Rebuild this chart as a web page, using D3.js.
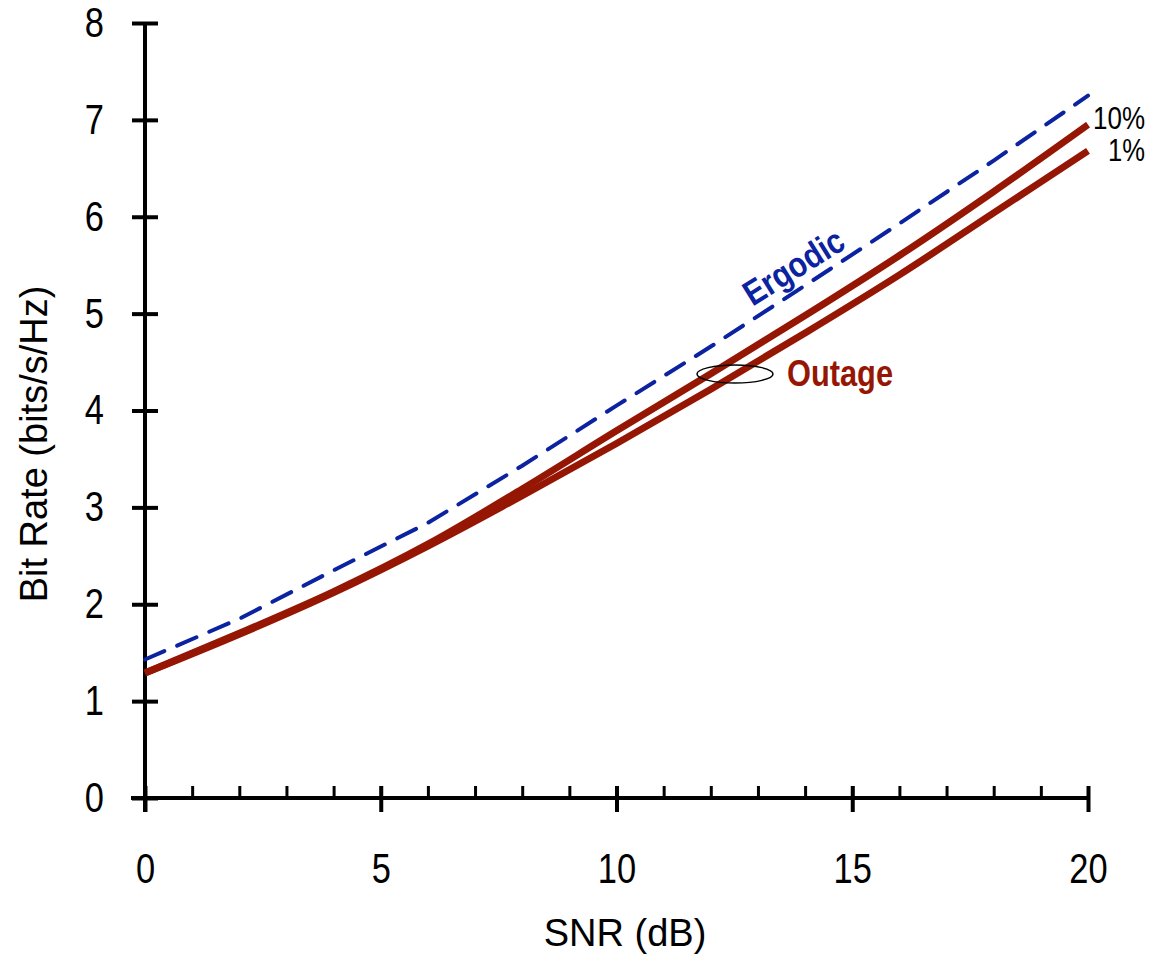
<!DOCTYPE html>
<html>
<head>
  <meta charset="utf-8">
  <script src="https://cdn.jsdelivr.net/npm/d3@7"></script>
  <style>
    body { margin: 0; background: #fff; }
    text { font-family: "Liberation Sans", Arial, sans-serif; }
    .tick text { font-size: 42px; fill: #000; }
  </style>
</head>
<body>
<script>
  // values, every 2 dB
  var snr      = [0, 2, 4, 6, 8, 10, 12, 14, 16, 18, 20];
  var ergodic  = [1.43, 1.85, 2.35, 2.84, 3.43, 4.05, 4.66, 5.29, 5.93, 6.58, 7.25];
  var outage10 = [1.29, 1.70, 2.13, 2.62, 3.19, 3.79, 4.38, 4.98, 5.60, 6.26, 6.95];
  var outage1  = [1.29, 1.69, 2.12, 2.60, 3.12, 3.66, 4.22, 4.80, 5.40, 6.04, 6.68];

  var xMajor = [0, 5, 10, 15, 20];
  var xMinor = d3.range(0, 21, 1);
  var yTicks = [0, 1, 2, 3, 4, 5, 6, 7, 8];

  var red = "#961604",
      blue = "#0b23a0";

  var svg = d3.select("body")
    .append("svg")
      .attr("width", 1154)
      .attr("height", 962);

  var x = d3.scaleLinear().domain([0, 20]).range([145, 1088]);
  var y = d3.scaleLinear().domain([0, 8]).range([798, 23]);

  // squeeze a text horizontally (the original uses a narrow face)
  function narrow(sel, k) {
    sel.each(function() {
      var w = this.getComputedTextLength();
      d3.select(this)
        .attr("textLength", w * k)
        .attr("lengthAdjust", "spacingAndGlyphs");
    });
  }

  /*
    axes
  */
  var gx = svg.append("g")
      .attr("transform", "translate(0," + y(0) + ")");

  gx.append("g")
      .call(d3.axisBottom(x).tickValues(xMinor).tickSize(-12).tickFormat(""))
      .call(function(g) { g.select(".domain").remove(); })
      .selectAll(".tick line")
        .attr("stroke", "#000")
        .attr("stroke-width", 3);

  var gxMajor = gx.append("g")
      .call(d3.axisBottom(x).tickValues(xMajor).tickSize(14).tickPadding(41))
      .call(function(g) { g.select(".domain").remove(); });

  gxMajor.selectAll(".tick line")
      .attr("y1", -12)
      .attr("stroke", "#000")
      .attr("stroke-width", 4);
  gxMajor.selectAll(".tick text").call(narrow, 0.82);

  var gy = svg.append("g")
      .attr("transform", "translate(" + x(0) + ",0)")
      .call(d3.axisLeft(y).tickValues(yTicks).tickSize(13).tickPadding(28))
      .call(function(g) { g.select(".domain").remove(); });

  gy.selectAll(".tick line")
      .attr("x1", 13)
      .attr("stroke", "#000")
      .attr("stroke-width", 4);
  gy.selectAll(".tick text").call(narrow, 0.82);

  // axis lines
  svg.append("line")
      .attr("x1", x(0) - 14).attr("x2", x(20))
      .attr("y1", y(0)).attr("y2", y(0))
      .attr("stroke", "#000").attr("stroke-width", 4);

  svg.append("line")
      .attr("x1", x(0)).attr("x2", x(0))
      .attr("y1", y(8) - 1).attr("y2", y(0) + 14)
      .attr("stroke", "#000").attr("stroke-width", 4);

  svg.append("text")
      .attr("x", 625)
      .attr("y", 946)
      .attr("text-anchor", "middle")
      .style("font-size", "38px")
      .text("SNR (dB)");

  svg.append("text")
      .attr("transform", "translate(47,444) rotate(-90)")
      .attr("text-anchor", "middle")
      .style("font-size", "38px")
      .text("Bit Rate (bits/s/Hz)");

  /*
    curves
  */
  var smooth = d3.line()
      .x(function(d, i) { return x(snr[i]); })
      .y(function(d) { return y(d); })
      .curve(d3.curveMonotoneX);

  var straight = d3.line()
      .x(function(d, i) { return x(snr[i]); })
      .y(function(d) { return y(d); });

  svg.append("path")
      .datum(outage1)
      .attr("d", smooth)
      .attr("fill", "none")
      .attr("stroke", red)
      .attr("stroke-width", 7);

  svg.append("path")
      .datum(outage10)
      .attr("d", smooth)
      .attr("fill", "none")
      .attr("stroke", red)
      .attr("stroke-width", 7);

  svg.append("path")
      .datum(ergodic)
      .attr("d", straight)
      .attr("fill", "none")
      .attr("stroke", blue)
      .attr("stroke-width", 4)
      .attr("stroke-linecap", "round")
      .attr("stroke-dasharray", "21,14");

  /*
    annotations
  */
  svg.append("ellipse")
      .attr("cx", 735).attr("cy", 374)
      .attr("rx", 38).attr("ry", 9)
      .attr("fill", "none")
      .attr("stroke", "#000")
      .attr("stroke-width", 1.5);

  svg.append("text")
      .attr("x", 787)
      .attr("y", 386)
      .attr("fill", red)
      .attr("textLength", 106)
      .attr("lengthAdjust", "spacingAndGlyphs")
      .style("font-weight", "bold")
      .style("font-size", "37px")
      .text("Outage");

  svg.append("text")
      .attr("transform", "translate(800,277) rotate(-32)")
      .attr("text-anchor", "middle")
      .attr("fill", blue)
      .attr("textLength", 112)
      .attr("lengthAdjust", "spacingAndGlyphs")
      .style("font-weight", "bold")
      .style("font-size", "35px")
      .text("Ergodic");

  svg.append("text")
      .attr("x", 1145)
      .attr("y", 129)
      .attr("text-anchor", "end")
      .attr("textLength", 52)
      .attr("lengthAdjust", "spacingAndGlyphs")
      .style("font-size", "31px")
      .text("10%");

  svg.append("text")
      .attr("x", 1145)
      .attr("y", 161)
      .attr("text-anchor", "end")
      .attr("textLength", 37)
      .attr("lengthAdjust", "spacingAndGlyphs")
      .style("font-size", "31px")
      .text("1%");
</script>
</body>
</html>
